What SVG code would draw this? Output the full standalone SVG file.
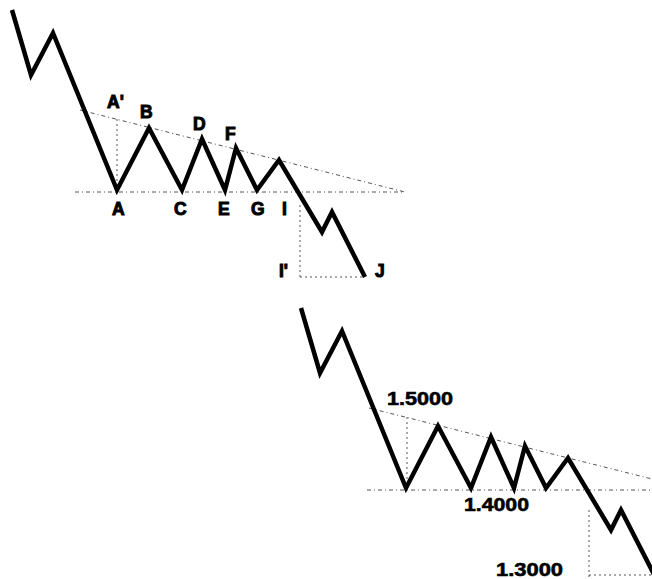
<svg xmlns="http://www.w3.org/2000/svg" width="652" height="579" viewBox="0 0 652 579">
<style>
.price{fill:none;stroke:#000;stroke-width:4.5;stroke-linejoin:miter;stroke-linecap:butt}
.guide{fill:none;stroke:#555;stroke-width:1;stroke-dasharray:4 3 1 3}
.dot{fill:none;stroke:#555;stroke-width:1;stroke-dasharray:2 3}
.lbl{font-family:"Liberation Sans",Arial,sans-serif;font-weight:bold;font-size:17.5px;fill:#000;stroke:#000;stroke-width:1}
.num{font-family:"Liberation Sans",Arial,sans-serif;font-weight:bold;font-size:19px;fill:#000;stroke:#000;stroke-width:0.6}
</style>
<rect width="652" height="579" fill="#fff"/>
<g id="chart-top">
  <g id="guides-top">
    <line class="guide" x1="80" y1="110" x2="405" y2="192"/>
    <line class="guide" x1="75" y1="192" x2="405" y2="192"/>
    <line class="dot" x1="117" y1="119" x2="117" y2="192"/>
    <line class="dot" x1="300" y1="205" x2="300" y2="277"/>
    <line class="dot" x1="300" y1="277" x2="362" y2="277"/>
  </g>
  <polyline class="price" points="12,10 31,75 53,33 117,190 149,128 182,190 202,139 225,190 236,148 257,190 279,160 322,232 332,212 365,277"/>
  <g id="labels-top">
    <text class="lbl" x="107" y="108">A'</text>
    <text class="lbl" x="140" y="118">B</text>
    <text class="lbl" x="193" y="130">D</text>
    <text class="lbl" x="225" y="140">F</text>
    <text class="lbl" x="112" y="215">A</text>
    <text class="lbl" x="174" y="215">C</text>
    <text class="lbl" x="218" y="215">E</text>
    <text class="lbl" x="251" y="215">G</text>
    <text class="lbl" x="282" y="215">I</text>
    <text class="lbl" x="279" y="277">I'</text>
    <text class="lbl" x="375" y="277">J</text>
  </g>
</g>
<g id="chart-bottom">
  <g id="guides-bottom">
    <line class="guide" x1="369" y1="408" x2="652" y2="479"/>
    <line class="guide" x1="367" y1="490" x2="652" y2="490"/>
    <line class="dot" x1="407" y1="417" x2="407" y2="490"/>
    <line class="dot" x1="589" y1="510" x2="589" y2="579"/>
    <line class="dot" x1="589" y1="575" x2="652" y2="575"/>
  </g>
  <polyline class="price" points="301,308 320,373 342,331 406,488 438,426 471,488 491,437 514,488 525,446 546,488 568,458 611,530 621,510 662,590"/>
  <g id="labels-bottom">
    <text class="num" x="387" y="405" textLength="66" lengthAdjust="spacingAndGlyphs">1.5000</text>
    <text class="num" x="464" y="511" textLength="65" lengthAdjust="spacingAndGlyphs">1.4000</text>
    <text class="num" x="496" y="576" textLength="67" lengthAdjust="spacingAndGlyphs">1.3000</text>
  </g>
</g>
</svg>
